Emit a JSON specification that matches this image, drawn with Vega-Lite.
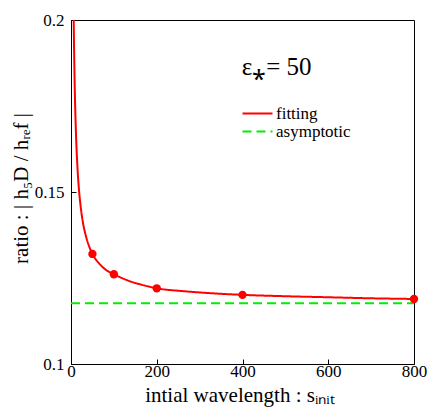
{
  "$schema": "https://vega.github.io/schema/vega-lite/v6.json",
  "autosize": "none",
  "width": 343,
  "height": 344,
  "padding": {"left": 71, "top": 20, "right": 22, "bottom": 44},
  "background": "white",
  "config": {
    "view": {"stroke": "black", "strokeWidth": 1},
    "font": "Liberation Serif",
    "text": {"font": "Liberation Serif"},
    "axis": {
      "grid": false,
      "domainColor": "black",
      "tickColor": "black",
      "labelFont": "Liberation Serif",
      "titleFont": "Liberation Serif",
      "labelFontSize": 17,
      "titleFontSize": 21,
      "labelColor": "black",
      "titleColor": "black",
      "titleFontWeight": "normal",
      "labelFlush": false,
      "tickSize": -5
    },
    "legend": {
      "labelFont": "Liberation Serif",
      "labelFontSize": 17,
      "labelColor": "black"
    }
  },
  "datasets": {
    "curve": [
      {"s": 6.3, "ratio": 0.2, "series": "fitting"},
      {"s": 7.5, "ratio": 0.189, "series": "fitting"},
      {"s": 8.6, "ratio": 0.1812, "series": "fitting"},
      {"s": 10, "ratio": 0.1736, "series": "fitting"},
      {"s": 12, "ratio": 0.1656, "series": "fitting"},
      {"s": 15, "ratio": 0.1573, "series": "fitting"},
      {"s": 18.7, "ratio": 0.1505, "series": "fitting"},
      {"s": 23, "ratio": 0.1453, "series": "fitting"},
      {"s": 28, "ratio": 0.141, "series": "fitting"},
      {"s": 35, "ratio": 0.1371, "series": "fitting"},
      {"s": 43.5, "ratio": 0.1338, "series": "fitting"},
      {"s": 50, "ratio": 0.132, "series": "fitting"},
      {"s": 65, "ratio": 0.1293, "series": "fitting"},
      {"s": 80, "ratio": 0.1275, "series": "fitting"},
      {"s": 100, "ratio": 0.1261, "series": "fitting"},
      {"s": 130, "ratio": 0.1244, "series": "fitting"},
      {"s": 172, "ratio": 0.1228, "series": "fitting"},
      {"s": 200, "ratio": 0.1220, "series": "fitting"},
      {"s": 260, "ratio": 0.1212, "series": "fitting"},
      {"s": 300, "ratio": 0.1208, "series": "fitting"},
      {"s": 400, "ratio": 0.1201, "series": "fitting"},
      {"s": 500, "ratio": 0.1197, "series": "fitting"},
      {"s": 600, "ratio": 0.1194, "series": "fitting"},
      {"s": 700, "ratio": 0.1191, "series": "fitting"},
      {"s": 800, "ratio": 0.1189, "series": "fitting"},
      {"s": 0, "ratio": 0.11765, "series": "asymptotic"},
      {"s": 800, "ratio": 0.11765, "series": "asymptotic"}
    ],
    "points": [
      {"s": 50, "ratio": 0.132},
      {"s": 100, "ratio": 0.1261},
      {"s": 200, "ratio": 0.1220},
      {"s": 400, "ratio": 0.1201},
      {"s": 800, "ratio": 0.1189}
    ],
    "note": [
      {"s": 398, "ratio": 0.1839, "label": "ε⁎= 50"}
    ]
  },
  "layer": [
    {
      "data": {"name": "curve"},
      "mark": {"type": "line", "strokeWidth": 2, "clip": true, "interpolate": "monotone"},
      "encoding": {
        "x": {
          "field": "s", "type": "quantitative",
          "scale": {"domain": [0, 800], "nice": false},
          "axis": {
            "values": [0, 200, 400, 600, 800],
            "format": "d",
            "labelPadding": 4,
            "title": "intial wavelength : sᵢₙᵢₜ",
            "titleX": 168.5,
            "titleY": 37,
            "titleBaseline": "alphabetic",
            "titleAlign": "center"
          }
        },
        "y": {
          "field": "ratio", "type": "quantitative",
          "scale": {"domain": [0.1, 0.2], "nice": false, "zero": false},
          "axis": {
            "values": [0.1, 0.15, 0.2],
            "format": "~g",
            "labelPadding": 12,
            "title": "ratio : | h₅D / hᵣₑf |",
            "titleX": -44,
            "titleY": 168,
            "titleAngle": -90,
            "titleBaseline": "alphabetic",
            "titleAlign": "center"
          }
        },
        "color": {
          "field": "series", "type": "nominal",
          "scale": {"domain": ["fitting", "asymptotic"], "range": ["#ff0000", "#00ee00"]},
          "legend": {
            "title": null,
            "orient": "none",
            "legendX": 178,
            "legendY": 85,
            "symbolType": "M-3,0H3",
            "symbolSize": 100,
            "symbolStrokeWidth": 2,
            "labelOffset": 10,
            "rowPadding": 0,
            "padding": 0
          }
        },
        "strokeDash": {
          "field": "series", "type": "nominal",
          "scale": {"domain": ["fitting", "asymptotic"], "range": [[1, 0], [9, 5]]},
          "legend": null
        }
      }
    },
    {
      "data": {"name": "points"},
      "mark": {"type": "point", "filled": true, "size": 70, "color": "#ff0000", "opacity": 1},
      "encoding": {
        "x": {"field": "s", "type": "quantitative"},
        "y": {"field": "ratio", "type": "quantitative"}
      }
    },
    {
      "data": {"name": "note"},
      "mark": {"type": "text", "fontSize": 25, "align": "left", "baseline": "alphabetic", "font": "Liberation Serif", "color": "black"},
      "encoding": {
        "x": {"field": "s", "type": "quantitative"},
        "y": {"field": "ratio", "type": "quantitative"},
        "text": {"field": "label"}
      }
    }
  ]
}
